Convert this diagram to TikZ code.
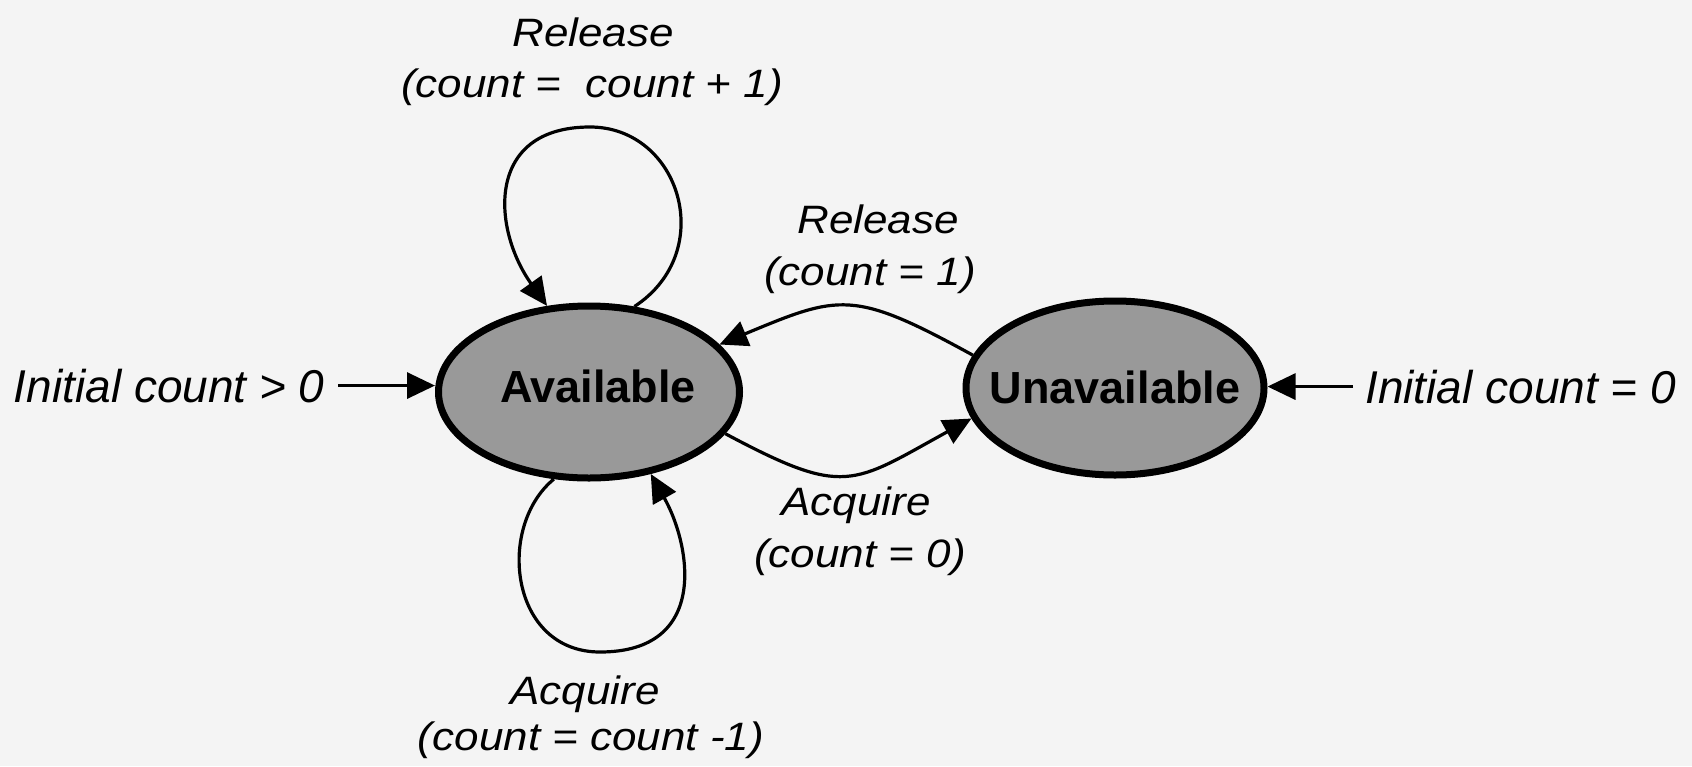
\documentclass[tikz,border=0pt]{standalone}
\usepackage{fontspec}
\setmainfont{Liberation Sans}
\usetikzlibrary{shapes.geometric,arrows.meta}
\definecolor{statefill}{gray}{0.6}
\definecolor{paper}{gray}{0.955}
\newcommand{\tlab}[1]{\scalebox{1}[0.9]{#1}}
\begin{document}
\begin{tikzpicture}[x=0.5pt,y=-0.5pt,
  state/.style={ellipse,draw=black,line width=3.5pt,fill=statefill,inner sep=0pt},
  stxt/.style={font=\fontsize{22.5}{27}\selectfont\bfseries,inner sep=0pt,anchor=base},
  conn/.style={line width=1.6pt,-{Triangle[length=14pt,width=13pt]}},
  lab/.style={font=\fontsize{22}{26}\selectfont\itshape,inner sep=0pt,anchor=base},
  init/.style={font=\fontsize{23}{27}\selectfont\itshape,inner sep=0pt}]
\fill[paper] (0,0) rectangle (1692,766);
\useasboundingbox (0,0) rectangle (1692,766);

% states
\node[state,minimum width=150.5pt,minimum height=86pt] (av) at (589,392) {};
\node[state,minimum width=149pt,minimum height=87pt] (un) at (1115,388) {};
\node[stxt] (avt) at (598,402) {Available};
\node[stxt] (unt) at (1115,403) {Unavailable};

% initial labels
\node[init,anchor=base east] (initL) at (325,402) {Initial count > 0};
\node[init,anchor=base west] (initR) at (1365,403) {Initial count = 0};
\draw[conn] ([xshift=6.5pt]initL.east) -- (initL.east -| av.west);
\draw[conn] ([xshift=-6pt]initR.west) -- (initR.west -| un.east);

% self loops
\coordinate (ltop) at (590,127);
\coordinate (lbot) at (600,652);
\draw[conn] (av.62) .. controls +(84,-55) and +(90,0) .. (ltop)
  .. controls +(-105,0) and +(-55,-77) .. (av.116);
\draw[conn] (av.248) .. controls +(-58,48) and +(-90,0) .. (lbot)
  .. controls +(110,0) and +(40,71) .. (av.307);

% transitions between states
\draw[conn] (un.167) .. controls +(-120,-66) and +(120,-50) .. (av.20);
\draw[conn] (av.343) .. controls +(120,64) and +(-120,66) .. (un.192);

% transition labels
\node[lab] (rl1) at (593,46) {\tlab{Release}};
\node[lab] (rl2) at (592,97) {\tlab{(count =\ \ count + 1)}};
\node[lab] (mr1) at (878,233) {\tlab{Release}};
\node[lab] (mr2) at (870,285) {\tlab{(count = 1)}};
\node[lab] (ma1) at (856,515) {\tlab{Acquire}};
\node[lab] (ma2) at (860,567) {\tlab{(count = 0)}};
\node[lab] (ba1) at (585,704) {\tlab{Acquire}};
\node[lab] (ba2) at (591,750) {\tlab{(count = count -1)}};
\end{tikzpicture}
\end{document}
